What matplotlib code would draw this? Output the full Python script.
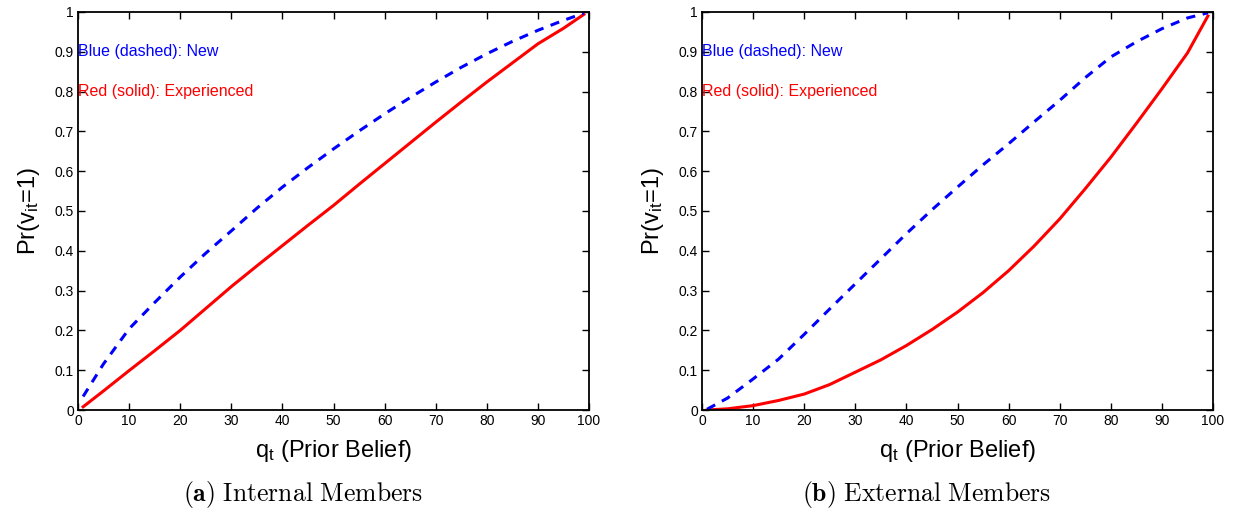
import matplotlib
matplotlib.use("Agg")
import matplotlib.pyplot as plt
from matplotlib.ticker import FuncFormatter

plt.rcParams['font.family'] = ['Liberation Sans', 'DejaVu Sans']
plt.rcParams['mathtext.fontset'] = 'custom'
plt.rcParams['mathtext.rm'] = 'Liberation Sans'
plt.rcParams['mathtext.it'] = 'Liberation Sans'

# values
q = [1, 5, 10, 15, 20, 25, 30, 35, 40, 45, 50, 55, 60, 65, 70, 75, 80, 85, 90, 95, 99]
internal_new = [0.034, 0.116, 0.204, 0.27, 0.334, 0.394, 0.45, 0.507, 0.56, 0.609, 0.656,
                0.701, 0.744, 0.785, 0.824, 0.861, 0.895, 0.926, 0.954, 0.979, 0.997]
internal_exp = [0.008, 0.048, 0.099, 0.149, 0.20, 0.255, 0.31, 0.362, 0.413, 0.464, 0.514,
                0.567, 0.619, 0.671, 0.723, 0.774, 0.824, 0.872, 0.92, 0.959, 0.994]
external_new = [0.002, 0.03, 0.078, 0.128, 0.19, 0.254, 0.317, 0.38, 0.443, 0.503, 0.56,
                0.616, 0.669, 0.724, 0.778, 0.835, 0.887, 0.925, 0.958, 0.985, 0.998]
external_exp = [0.0, 0.003, 0.011, 0.024, 0.04, 0.064, 0.095, 0.126, 0.162, 0.202, 0.246,
                0.295, 0.35, 0.412, 0.48, 0.556, 0.635, 0.72, 0.807, 0.897, 0.99]

panels = [
    (internal_new, internal_exp, "(a)", "Internal\\ Members"),
    (external_new, external_exp, "(b)", "External\\ Members"),
]

W, H = 1235, 516
fig = plt.figure(figsize=(W / 100, H / 100), dpi=100)

ax_lefts = [78, 702]
cap_x = [303, 927]

def fmt(v, pos):
    return ("%.1f" % v).rstrip('0').rstrip('.')

for i, (new, exp, tag, name) in enumerate(panels):
    ax = fig.add_axes([ax_lefts[i] / W, (H - 410) / H, 511 / W, 398 / H])
    ax.plot(q, exp, color='#ff0000', lw=2.2)
    ax.plot(q, new, color='#0000ff', lw=2.2, linestyle=(0, (3, 2.5)))
    ax.set_xlim(0, 100)
    ax.set_ylim(0, 1)
    ax.set_xticks(range(0, 101, 10))
    ax.set_yticks([k / 10 for k in range(11)])
    ax.yaxis.set_major_formatter(FuncFormatter(fmt))
    ax.tick_params(direction='in', top=True, right=True, length=5, width=1,
                   labelsize=10, pad=3)
    for sp in ax.spines.values():
        sp.set_linewidth(1.3)
    ax.set_xlabel(r"q$_t$ (Prior Belief)", fontsize=17, labelpad=7)
    ax.set_ylabel(r"Pr(v$_{it}$=1)", fontsize=17, labelpad=9)
    ax.text(0, 0.9, "Blue (dashed): New", color='#0000ff', fontsize=11.5, va='center', ha='left')
    ax.text(0, 0.8, "Red (solid): Experienced", color='#ff0000', fontsize=11.5, va='center', ha='left')
    fig.text(cap_x[i] / W, (H - 495) / H,
             r"$\mathbf{" + tag + r"}\ \mathrm{" + name + "}$",
             ha='center', va='center', fontsize=18.5, math_fontfamily='cm')

fig.savefig("out.png", dpi=100)
